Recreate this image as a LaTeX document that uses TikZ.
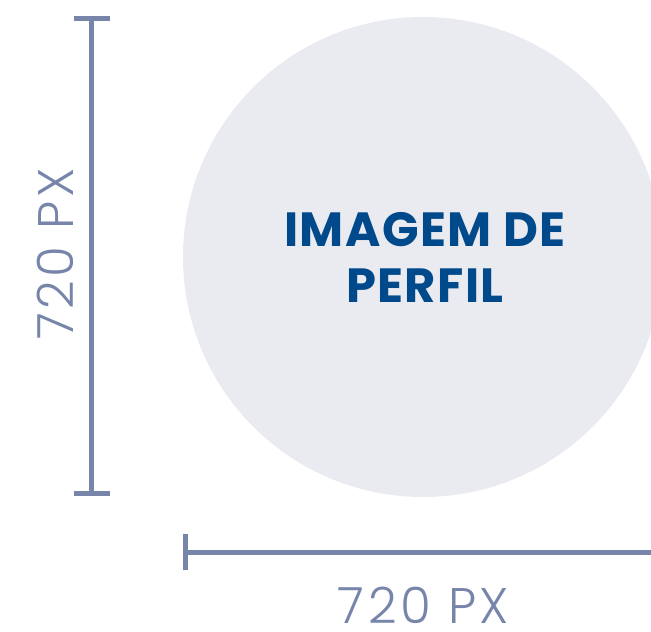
\documentclass[tikz,border=0pt]{standalone}
\usepackage{fontspec}
\setmainfont{Poppins}
\newfontfamily\thinfont[LetterSpace=7]{Poppins Light}
\usetikzlibrary{positioning}
\definecolor{dim}{HTML}{7885AB}
\definecolor{disc}{HTML}{EAEBF1}
\definecolor{title}{HTML}{004A8C}

\begin{document}
\begin{tikzpicture}[
  x=1pt, y=-1pt,
  dimline/.style={draw=dim, line width=5pt},
  dimlbl/.style={text=dim, inner sep=0pt, font=\thinfont\fontsize{50}{50}\selectfont},
  ttl/.style={text=title, inner sep=0pt, align=center, font=\bfseries\addfontfeature{LetterSpace=3}\fontsize{48}{56}\selectfont},
]
\useasboundingbox (0,0) rectangle (651,632);

% Profile disc
\begin{scope}
  \clip (0,0) rectangle (651,632);
  \fill[disc] (423,257) circle (240pt);
\end{scope}
\node[ttl] (photo) at (425,257) {IMAGEM DE\\PERFIL};

% Height
\coordinate (vtop) at (91.5,18.5);
\coordinate (vbot) at (91.5,493.5);
\draw[dimline] (vtop) -- (vbot);
\draw[dimline] ([xshift=-18pt]vtop) -- ([xshift=18pt]vtop);
\draw[dimline] ([xshift=-18pt]vbot) -- ([xshift=18pt]vbot);
\node[dimlbl, rotate=90] (hgt) at (55.5,254) {720 PX};

% Width
\coordinate (hleft) at (185,552);
\coordinate (hright) at (651,552);
\draw[dimline, line cap=butt] (hleft) -- (hright);
\draw[dimline] ([yshift=-18pt]hleft) -- ([yshift=18pt]hleft);
\node[dimlbl] (wid) at (423.5,605) {720 PX};

\end{tikzpicture}
\end{document}
